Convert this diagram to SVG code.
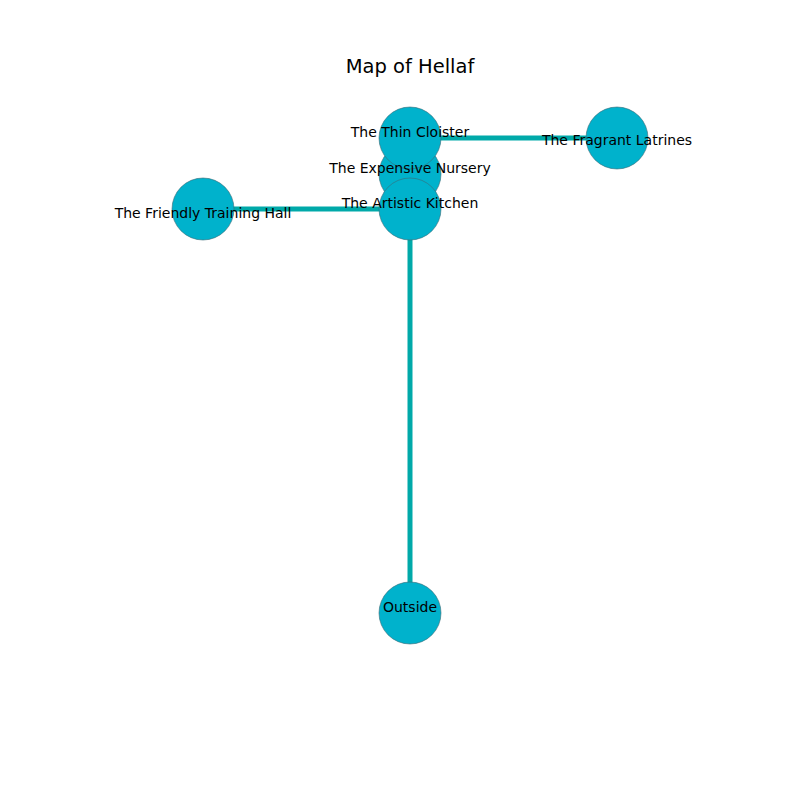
<svg xmlns="http://www.w3.org/2000/svg" width="800" height="800" viewBox="0 0 800 800">
<style>
.edge{stroke:#00a9a9;stroke-width:5;fill:none}
.node{fill:#00b2cc;stroke:#3a6a75;stroke-width:0.6}
.lbl{font-family:"DejaVu Sans",sans-serif;font-size:14px;fill:#000;text-anchor:middle}
.title{font-family:"DejaVu Sans",sans-serif;font-size:19.5px;fill:#000;text-anchor:middle}
</style>
<rect width="800" height="800" fill="#fff"/>
<text class="title" x="410" y="73">Map of Hellaf</text>
<g id="connectors">
<line class="edge" x1="410" y1="138" x2="617" y2="138"/>
<line class="edge" x1="203" y1="209" x2="410" y2="209"/>
<line class="edge" x1="410" y1="209" x2="410" y2="613"/>
</g>
<g id="node-expensive-nursery"><circle class="node" cx="410" cy="174" r="31"/></g>
<g id="node-thin-cloister"><circle class="node" cx="410" cy="138" r="31"/></g>
<g id="node-artistic-kitchen"><circle class="node" cx="410" cy="209" r="31"/></g>
<g id="node-friendly-training-hall"><circle class="node" cx="203" cy="209" r="31"/></g>
<g id="node-fragrant-latrines"><circle class="node" cx="617" cy="138" r="31"/></g>
<g id="node-outside"><circle class="node" cx="410" cy="613" r="31"/></g>
<g id="labels">
<text class="lbl" x="410" y="137">The Thin Cloister</text>
<text class="lbl" x="410" y="173">The Expensive Nursery</text>
<text class="lbl" x="410" y="208">The Artistic Kitchen</text>
<text class="lbl" x="203" y="218">The Friendly Training Hall</text>
<text class="lbl" x="617" y="145">The Fragrant Latrines</text>
<text class="lbl" x="410" y="612">Outside</text>
</g>
</svg>
